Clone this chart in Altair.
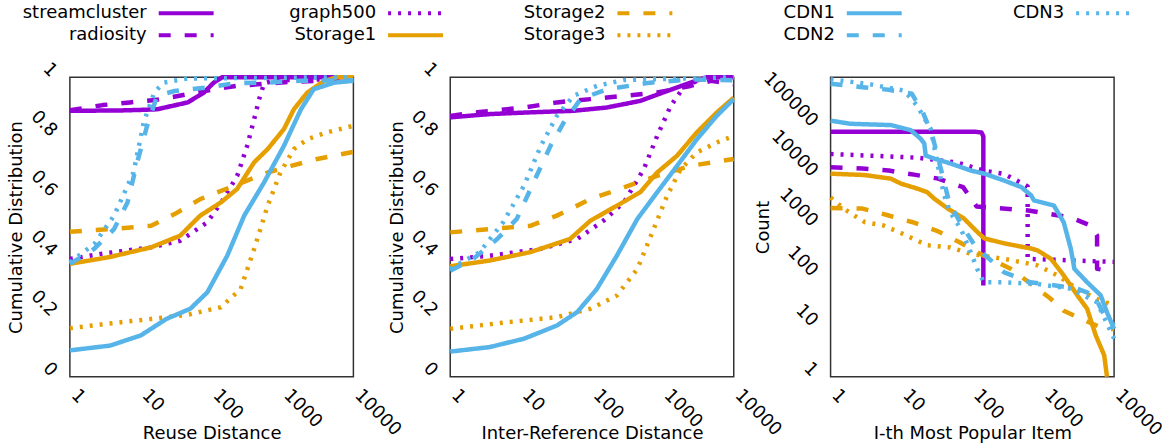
import altair as alt
import pandas as pd

SERIES = ["streamcluster", "radiosity", "graph500", "Storage1", "Storage2",
          "Storage3", "CDN1", "CDN2", "CDN3"]
COLORS = ["#9400D3", "#9400D3", "#9400D3", "#E69F00", "#E69F00", "#E69F00",
          "#56B4E9", "#56B4E9", "#56B4E9"]
DASHES = [[1, 0], [12, 14], [3, 7]] * 3
WIDTHS = [4.5, 4.5, 4] * 3

# legend layout (gnuplot key: 5 columns, filled column by column)
LEG_COL = [0, 0, 1, 1, 2, 2, 3, 3, 4]
LEG_ROW = [0, 1, 0, 1, 0, 1, 0, 1, 0]

XTICKS = [1, 10, 100, 1000, 10000]
CDF_TICKS = [0, 0.2, 0.4, 0.6, 0.8, 1]
COUNT_TICKS = [1, 10, 100, 1000, 10000, 100000]

# ---------------- Reuse distance CDF ----------------
REUSE_X = {
    "streamcluster": [1, 5, 10, 17, 46, 78, 107, 141, 10000],
    "radiosity": [1, 2.9, 7, 16, 35, 80, 220, 1200, 10000],
    "graph500": [1, 2.7, 14, 36, 87, 135, 229, 316, 398, 468, 550, 800, 10000],
    "Storage1": [1, 3.7, 14, 36, 69, 135, 229, 398, 617, 1047, 1445, 2239, 3890, 5890, 10000],
    "Storage2": [1, 3.7, 14, 30, 69, 209, 617, 1318, 3090, 10000],
    "Storage3": [1, 3.4, 14, 46, 135, 257, 398, 617, 933, 1445, 2239, 4266, 10000],
    "CDN1": [1, 3.7, 10, 23, 50, 87, 166, 288, 550, 1047, 1820, 2754, 5370, 10000],
    "CDN2": [1, 2.2, 4.2, 6.5, 8.9, 12.3, 17, 30, 87, 209, 617, 1820, 10000],
    "CDN3": [1, 2.2, 4.2, 7.9, 11, 15.5, 21, 46, 10000],
}
REUSE_Y = {
    "streamcluster": [0.888, 0.889, 0.891, 0.893, 0.916, 0.949, 0.982, 1.0, 1.0],
    "radiosity": [0.89, 0.907, 0.916, 0.924, 0.938, 0.954, 0.971, 0.984, 0.993],
    "graph500": [0.393, 0.41, 0.432, 0.454, 0.516, 0.58, 0.67, 0.77, 0.86, 0.927, 0.98, 0.99, 0.995],
    "Storage1": [0.377, 0.40, 0.432, 0.471, 0.538, 0.582, 0.627, 0.716, 0.76, 0.827, 0.893, 0.949, 0.988, 1.0, 1.0],
    "Storage2": [0.484, 0.493, 0.504, 0.543, 0.593, 0.638, 0.682, 0.704, 0.727, 0.751],
    "Storage3": [0.162, 0.177, 0.193, 0.207, 0.232, 0.293, 0.427, 0.571, 0.682, 0.76, 0.793, 0.816, 0.838],
    "CDN1": [0.088, 0.104, 0.138, 0.193, 0.227, 0.282, 0.404, 0.538, 0.649, 0.771, 0.893, 0.96, 0.982, 0.988],
    "CDN2": [0.377, 0.427, 0.493, 0.582, 0.716, 0.838, 0.938, 0.954, 0.966, 0.98, 0.982, 0.988, 0.99],
    "CDN3": [0.382, 0.443, 0.538, 0.682, 0.849, 0.949, 0.982, 0.996, 1.0],
}

# ---------------- Inter-reference distance CDF ----------------
IRD_X = {
    "streamcluster": [1, 3.6, 11, 55, 162, 479, 1148, 2455, 4169, 10000],
    "radiosity": [1, 2.6, 11, 32, 95, 282, 832, 2455, 4786, 10000],
    "graph500": [1, 3.6, 19, 62, 145, 282, 537, 832, 1288, 1950, 3388, 10000],
    "Storage1": [1, 3.6, 13.5, 49, 95, 224, 479, 832, 1585, 3020, 5754, 10000],
    "Storage2": [1, 3.6, 13.5, 32, 95, 282, 832, 2455, 10000],
    "Storage3": [1, 6.3, 32, 95, 224, 437, 741, 1148, 1778, 3020, 5754, 10000],
    "CDN1": [1, 3.6, 11, 32, 62, 117, 224, 437, 832, 1585, 3020, 5754, 10000],
    "CDN2": [1, 2.1, 4.6, 8.7, 15, 26, 40, 69, 162, 661, 2455, 10000],
    "CDN3": [1, 2.6, 5.6, 11, 19, 32, 55, 117, 282, 10000],
}
IRD_Y = {
    "streamcluster": [0.866, 0.877, 0.882, 0.888, 0.899, 0.921, 0.954, 0.982, 1.0, 1.0],
    "radiosity": [0.871, 0.884, 0.899, 0.916, 0.927, 0.938, 0.949, 0.971, 0.988, 0.977],
    "graph500": [0.393, 0.404, 0.427, 0.46, 0.521, 0.582, 0.693, 0.804, 0.904, 0.966, 0.993, 1.0],
    "Storage1": [0.369, 0.388, 0.416, 0.46, 0.521, 0.571, 0.616, 0.682, 0.738, 0.816, 0.882, 0.932],
    "Storage2": [0.482, 0.493, 0.504, 0.538, 0.593, 0.632, 0.671, 0.704, 0.727],
    "Storage3": [0.16, 0.182, 0.199, 0.227, 0.271, 0.36, 0.493, 0.604, 0.693, 0.749, 0.782, 0.804],
    "CDN1": [0.084, 0.099, 0.127, 0.171, 0.216, 0.293, 0.404, 0.527, 0.616, 0.704, 0.793, 0.871, 0.927],
    "CDN2": [0.354, 0.393, 0.46, 0.527, 0.649, 0.771, 0.849, 0.927, 0.96, 0.982, 0.993, 0.99],
    "CDN3": [0.36, 0.416, 0.516, 0.638, 0.771, 0.871, 0.938, 0.971, 0.991, 1.0],
}

# ---------------- Item popularity (count of i-th most popular item) ----------------
POP_X = {
    "streamcluster": [1, 110, 135, 143, 143],
    "radiosity": [1, 2.8, 6.6, 15, 33, 74, 115, 269, 617, 2455, 4677, 5754, 5754, 7943],
    "graph500": [1, 16.6, 62, 145, 282, 479, 603, 603, 10000],
    "Storage1": [1, 3, 7.1, 9.8, 16.6, 23, 29, 45, 76, 117, 148, 282, 676, 832, 1288, 1950,
                 3020, 4169, 5495, 7244, 7943],
    "Storage2": [1, 2.8, 6.6, 14, 31, 65, 126, 347, 832, 1288, 1950, 3800, 7244, 10000],
    "Storage3": [1, 1.6, 3, 5.6, 10.2, 23, 49, 95, 282, 832, 1585, 3020, 5754, 10000],
    "CDN1": [1, 1.9, 7.1, 13.5, 18.6, 21, 22, 29, 50, 95, 148, 282, 490, 676, 741, 1413, 1950,
             2455, 2754, 4169, 6457, 7943, 10000],
    "CDN2": [1, 2.8, 6.6, 14, 20, 27, 39, 47, 71, 112, 282, 661, 1413, 3020, 5248, 7244, 10000],
    "CDN3": [1, 3.6, 11, 16.6, 26, 32, 40, 49, 69, 95, 117, 145, 282, 832, 2455, 5754, 10000],
}
POP_Y = {
    "streamcluster": [81000, 81000, 78000, 65000, 67],
    "radiosity": [15800, 14800, 13500, 11200, 9300, 6300, 2570, 2340, 2140, 1550, 1070, 680, 145, 135],
    "graph500": [29000, 24500, 19500, 13500, 11500, 7800, 6500, 230, 200],
    "Storage1": [11700, 11000, 9300, 7400, 5900, 5000, 3700, 2340, 1480, 800, 590, 470, 370, 340,
                 230, 107, 43, 23, 6.8, 2.7, 1],
    "Storage2": [2400, 2340, 1700, 1260, 850, 500, 295, 145, 58, 36, 21, 13.5, 9.1, 9],
    "Storage3": [3900, 2240, 1260, 1070, 740, 430, 390, 290, 230, 170, 107, 58, 36, 27],
    "CDN1": [135000, 117000, 110000, 87000, 59000, 47000, 27000, 23400, 18600, 13500, 11700, 8500,
             6300, 4300, 3400, 2700, 1230, 363, 145, 78, 43, 19.5, 9.1],
    "CDN2": [741000, 631000, 562000, 468000, 200000, 71000, 9300, 3160, 1070, 400, 123, 78, 68, 58,
             43, 17, 10.7],
    "CDN3": [912000, 724000, 537000, 269000, 91000, 19500, 4300, 1950, 912, 309, 145, 78, 78, 72,
             58, 31, 5.8],
}

FONT = "DejaVu Sans"


def frame(xd, yd):
    rows = []
    for s in SERIES:
        for i, (x, y) in enumerate(zip(xd[s], yd[s])):
            rows.append({"series": s, "i": i, "x": x, "y": y})
    return pd.DataFrame(rows)


def x_axis(title):
    return alt.Axis(values=XTICKS, format="d", title=title, labelAngle=45,
                    labelAlign="left", labelBaseline="alphabetic", labelPadding=19,
                    labelFlush=False, labelOverlap=False, ticks=False, domain=False,
                    grid=False, titleY=62, titleBaseline="alphabetic")


def y_axis(title, values, fmt, title_x):
    return alt.Axis(values=values, format=fmt, title=title, labelAngle=45,
                    labelAlign="right", labelBaseline="alphabetic", labelPadding=20,
                    labelFlush=False, labelOverlap=False, ticks=False, domain=False,
                    grid=False, titleX=title_x, titleBaseline="alphabetic")


def panel(df, xtitle, ytitle, yscale, yvalues, yfmt, title_x):
    return alt.Chart(df).mark_line(strokeJoin="round").encode(
        x=alt.X("x:Q", scale=alt.Scale(type="log", domain=[1, 10000], nice=False),
                axis=x_axis(xtitle)),
        y=alt.Y("y:Q", scale=yscale, axis=y_axis(ytitle, yvalues, yfmt, title_x)),
        color=alt.Color("series:N", scale=alt.Scale(domain=SERIES, range=COLORS), legend=None),
        strokeDash=alt.StrokeDash("series:N", scale=alt.Scale(domain=SERIES, range=DASHES),
                                  legend=None),
        strokeWidth=alt.StrokeWidth("series:N", scale=alt.Scale(domain=SERIES, range=WIDTHS),
                                    legend=None),
        order=alt.Order("i:Q"),
    ).properties(width=284, height=300)


cdf_scale = alt.Scale(domain=[0, 1], nice=False, zero=False)
p1 = panel(frame(REUSE_X, REUSE_Y), "Reuse Distance", "Cumulative Distribution",
           cdf_scale, CDF_TICKS, ".1~f", -48)
p2 = panel(frame(IRD_X, IRD_Y), "Inter-Reference Distance", "Cumulative Distribution",
           cdf_scale, CDF_TICKS, ".1~f", -48)
p3 = panel(frame(POP_X, POP_Y), "I-th Most Popular Item", "Count",
           alt.Scale(type="log", domain=[1, 1000000], nice=False), COUNT_TICKS, "d", -62)

# ---------------- legend (gnuplot-style key) ----------------
leg_df = pd.DataFrame({"series": SERIES, "col": LEG_COL, "row": LEG_ROW})
leg_x = alt.Scale(domain=[0, 5], range=[89, 1237.75])
leg_y = alt.Scale(domain=[0, 1], range=[11, 33])
leg_base = alt.Chart(leg_df)
leg_text = leg_base.mark_text(align="right", baseline="middle", dx=-12, fontSize=18,
                              font=FONT, color="black").encode(
    x=alt.X("col:Q", scale=leg_x, axis=None),
    y=alt.Y("row:Q", scale=leg_y, axis=None),
    text="series:N",
)
leg_line = leg_base.mark_rule(strokeWidth=4).transform_calculate(
    col2="datum.col + 0.2394"
).encode(
    x=alt.X("col:Q", scale=leg_x, axis=None),
    x2="col2:Q",
    y=alt.Y("row:Q", scale=leg_y, axis=None),
    color=alt.Color("series:N", scale=alt.Scale(domain=SERIES, range=COLORS), legend=None),
    strokeDash=alt.StrokeDash("series:N", scale=alt.Scale(domain=SERIES, range=DASHES),
                              legend=None),
)
legend = alt.layer(leg_text, leg_line).properties(
    width=1044, height=44, view=alt.ViewBackground(stroke="transparent"))

panels = alt.hconcat(p1, p2, p3, spacing=97, bounds="flush")
chart = alt.vconcat(legend, panels, spacing=31, bounds="flush").properties(
    padding={"left": 7, "top": 1, "right": 0, "bottom": 0}
).configure(font=FONT).configure_view(
    stroke="#333333", strokeWidth=1.5
).configure_axis(
    labelFont=FONT, titleFont=FONT, labelFontSize=18, titleFontSize=18,
    labelColor="black", titleColor="black", titleFontWeight="normal"
)

chart.save("out.html", embed_options={"renderer": "svg", "actions": False})
